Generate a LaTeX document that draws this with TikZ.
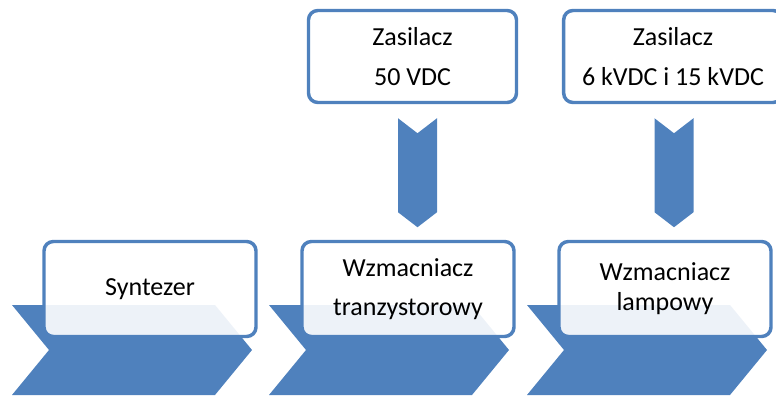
\documentclass[tikz,border=0pt]{standalone}
\usepackage{fontspec}
\setmainfont{Carlito}
\usetikzlibrary{calc}
\definecolor{niebieski}{RGB}{79,129,189}

\tikzset{
  blok/.style={draw=niebieski, line width=2.6pt, rounded corners=7pt, fill=white, fill opacity=0.9, text opacity=1,
    minimum width=159pt, minimum height=71.25pt, align=center, font=\fontsize{19.5}{22.5}\selectfont},
  zasilacz/.style={draw=niebieski, line width=2.6pt, rounded corners=7pt, fill=white,
    minimum height=69pt, align=center, font=\fontsize{19.5}{30}\selectfont},
  strzalka/.style={fill=niebieski}
}

\begin{document}
\begin{tikzpicture}[x=0.75pt, y=-0.75pt]
  \useasboundingbox (0,0) rectangle (776,396);
  % pasek procesu
  \fill[niebieski] (12,305) -- (215,305) -- (252,350) -- (215,395) -- (12,395) -- (49,350) -- cycle;
  \fill[niebieski] (269,305) -- (472,305) -- (509,350) -- (472,395) -- (269,395) -- (306,350) -- cycle;
  \fill[niebieski] (527,305) -- (730,305) -- (767,350) -- (730,395) -- (527,395) -- (564,350) -- cycle;
  % bloki
  \node[blok] (synt) at (150,289) {Syntezer};
  \node[blok] (tranz) at (408,289) {Wzmacniacz\\[6.5pt]tranzystorowy};
  \node[blok] (lamp) at (665,289) {Wzmacniacz\\lampowy};
  \node[zasilacz, minimum width=156pt] (zasA) at (412.5,56.5) {Zasilacz\\50 VDC};
  \node[zasilacz, minimum width=164pt] (zasB) at (673,56.5) {Zasilacz\\6 kVDC i 15 kVDC};
  % zasilanie
  \coordinate (gA) at ($(zasA.south)+(5,14)$);
  \coordinate (gB) at ($(zasB.south)+(1,14)$);
  \fill[strzalka] ($(gA)+(-19.5,0)$) -- ($(gA)+(0,15)$) -- ($(gA)+(19.5,0)$) -- ($(gA)+(19.5,94)$) -- ($(gA)+(0,109)$) -- ($(gA)+(-19.5,94)$) -- cycle;
  \fill[strzalka] ($(gB)+(-19.5,0)$) -- ($(gB)+(0,15)$) -- ($(gB)+(19.5,0)$) -- ($(gB)+(19.5,94)$) -- ($(gB)+(0,109)$) -- ($(gB)+(-19.5,94)$) -- cycle;
\end{tikzpicture}
\end{document}
